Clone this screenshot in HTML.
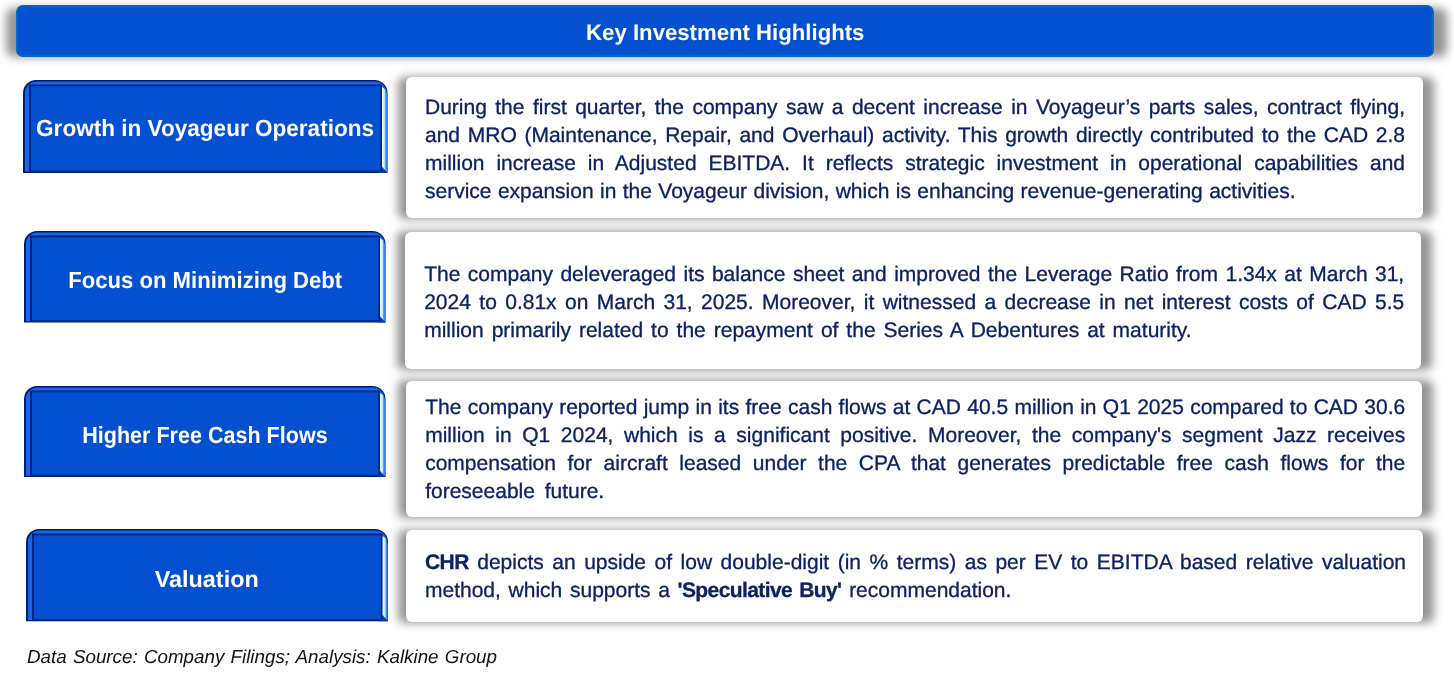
<!DOCTYPE html>
<html><head><meta charset="utf-8"><title>Key Investment Highlights</title>
<style>
html,body{margin:0;padding:0;background:#fff}
body{width:1454px;height:683px;position:relative;overflow:hidden;font-family:"Liberation Sans",sans-serif;text-rendering:geometricPrecision}
.sh{position:absolute;background:rgba(0,0,0,.42);filter:blur(5px);border-radius:6px}
.card{position:absolute;background:#fff;border-radius:6px}
.lab{position:absolute;display:block}
.hdr{position:absolute;left:16px;top:5px;width:1418px;height:52px;box-sizing:border-box;background:#0450D1;border:2.2px solid #0569C4;border-radius:7px}
.hdrt{position:absolute;left:0;width:1454px;text-align:center;color:#fff;font-weight:bold;white-space:nowrap}
.ln{position:absolute;color:#0B2265;-webkit-text-stroke:0.3px #0B2265;white-space:nowrap;text-align:justify;text-align-last:justify}
.ln b{letter-spacing:-0.6px}
.foot{position:absolute;color:#111;font-style:italic;white-space:nowrap;text-align:justify;text-align-last:justify}
</style></head><body>
<svg width="0" height="0" style="position:absolute"><defs>
<linearGradient id="hl" x1="0" y1="0" x2="1" y2="0">
<stop offset="0" stop-color="#9FD4FF"/><stop offset="0.18" stop-color="#F0FCFF"/><stop offset="0.5" stop-color="#C4ECFF"/><stop offset="0.72" stop-color="#4A96F2"/><stop offset="1" stop-color="#2A72E4"/>
</linearGradient></defs></svg>
<div class="sh" style="left:5.5px;top:7.5px;width:1441.5px;height:49.5px;border-radius:8px;filter:blur(5px)"></div><div class="hdr"></div><div class="hdrt" style="left:-1.8px;top:18.05px;font-size:22.5px;line-height:30px"><span style="display:inline-block;transform:scaleX(.985)">Key Investment Highlights</span></div><div class="sh" style="left:397.6px;top:76.6px;width:1036.2px;height:142.4px"></div>
<div class="sh" style="left:396.7px;top:231.4px;width:1035.2px;height:138.5px"></div>
<div class="sh" style="left:397.7px;top:380.3px;width:1035.2px;height:137.5px"></div>
<div class="sh" style="left:397.7px;top:529.6px;width:1036.2px;height:93.0px"></div>
<div class="card" style="left:406px;top:77.3px;width:1017px;height:140.8px"></div>
<div class="card" style="left:405.1px;top:232.1px;width:1016px;height:136.9px"></div>
<div class="card" style="left:406.1px;top:381px;width:1016px;height:135.9px"></div>
<div class="card" style="left:406.1px;top:530.3px;width:1017px;height:91.4px"></div>
<svg class="lab" style="left:23.1px;top:80.3px" width="364.5" height="92.9" viewBox="0 0 364.5 92.9"><path d="M0,92.9 L0,13 A13,13 0 0 1 13,0 L351.5,0 A13,13 0 0 1 364.5,13 L364.5,92.9 Z" fill="#00196B"/><path d="M1.9,91.6 L1.9,13.0 A11.4,11.4 0 0 1 13.3,1.6 L352.2,1.6 A11.4,11.4 0 0 1 363.6,13.0 L363.6,91.6 Z" fill="#1766E8"/><path d="M358.5,6.5 L362.3,9.5 L364.3,15 L364.3,92.6 L358.5,85.9 Z" fill="url(#hl)"/><path d="M357.5,85.9 L364.5,92.9 L355.5,92.9 Z" fill="#0A3AA8"/><path d="M6.0,91.5 L6.0,4.5 L359.0,4.5 L359.0,91.5 Z" fill="#01237F"/><path d="M8.0,90.6 L8.0,6.3 L357.4,6.3 L357.4,90.6 Z" fill="#0450D1"/><text x="182.05" y="56.00" text-anchor="middle" textLength="338.0" lengthAdjust="spacingAndGlyphs" font-family="Liberation Sans, sans-serif" font-weight="bold" font-size="23.4" fill="#fff">Growth in Voyageur Operations</text></svg>
<svg class="lab" style="left:24.2px;top:231.1px" width="361.5" height="91.5" viewBox="0 0 361.5 91.5"><path d="M0,91.5 L0,13 A13,13 0 0 1 13,0 L348.5,0 A13,13 0 0 1 361.5,13 L361.5,91.5 Z" fill="#00196B"/><path d="M1.9,90.2 L1.9,13.0 A11.4,11.4 0 0 1 13.3,1.6 L349.2,1.6 A11.4,11.4 0 0 1 360.6,13.0 L360.6,90.2 Z" fill="#1766E8"/><path d="M355.5,6.5 L359.3,9.5 L361.3,15 L361.3,91.2 L355.5,84.5 Z" fill="url(#hl)"/><path d="M354.5,84.5 L361.5,91.5 L352.5,91.5 Z" fill="#0A3AA8"/><path d="M6.0,90.1 L6.0,4.5 L356.0,4.5 L356.0,90.1 Z" fill="#01237F"/><path d="M8.0,89.2 L8.0,6.3 L354.4,6.3 L354.4,89.2 Z" fill="#0450D1"/><text x="181.20" y="57.20" text-anchor="middle" textLength="274.1" lengthAdjust="spacingAndGlyphs" font-family="Liberation Sans, sans-serif" font-weight="bold" font-size="23.4" fill="#fff">Focus on Minimizing Debt</text></svg>
<svg class="lab" style="left:24.2px;top:385.5px" width="361.5" height="91.1" viewBox="0 0 361.5 91.1"><path d="M0,91.1 L0,13 A13,13 0 0 1 13,0 L348.5,0 A13,13 0 0 1 361.5,13 L361.5,91.1 Z" fill="#00196B"/><path d="M1.9,89.8 L1.9,13.0 A11.4,11.4 0 0 1 13.3,1.6 L349.2,1.6 A11.4,11.4 0 0 1 360.6,13.0 L360.6,89.8 Z" fill="#1766E8"/><path d="M355.5,6.5 L359.3,9.5 L361.3,15 L361.3,90.8 L355.5,84.1 Z" fill="url(#hl)"/><path d="M354.5,84.1 L361.5,91.1 L352.5,91.1 Z" fill="#0A3AA8"/><path d="M6.0,89.7 L6.0,4.5 L356.0,4.5 L356.0,89.7 Z" fill="#01237F"/><path d="M8.0,88.8 L8.0,6.3 L354.4,6.3 L354.4,88.8 Z" fill="#0450D1"/><text x="180.95" y="56.80" text-anchor="middle" textLength="245.4" lengthAdjust="spacingAndGlyphs" font-family="Liberation Sans, sans-serif" font-weight="bold" font-size="23.4" fill="#fff">Higher Free Cash Flows</text></svg>
<svg class="lab" style="left:26.2px;top:529.4px" width="362" height="92.2" viewBox="0 0 362 92.2"><path d="M0,92.2 L0,13 A13,13 0 0 1 13,0 L349,0 A13,13 0 0 1 362,13 L362,92.2 Z" fill="#00196B"/><path d="M1.9,90.9 L1.9,13.0 A11.4,11.4 0 0 1 13.3,1.6 L349.7,1.6 A11.4,11.4 0 0 1 361.1,13.0 L361.1,90.9 Z" fill="#1766E8"/><path d="M356.0,6.5 L359.8,9.5 L361.8,15 L361.8,91.9 L356.0,85.2 Z" fill="url(#hl)"/><path d="M355,85.2 L362,92.2 L353,92.2 Z" fill="#0A3AA8"/><path d="M6.0,90.8 L6.0,4.5 L356.5,4.5 L356.5,90.8 Z" fill="#01237F"/><path d="M8.0,89.9 L8.0,6.3 L354.9,6.3 L354.9,89.9 Z" fill="#0450D1"/><text x="180.75" y="58.10" text-anchor="middle" textLength="104.0" lengthAdjust="spacingAndGlyphs" font-family="Liberation Sans, sans-serif" font-weight="bold" font-size="23.4" fill="#fff">Valuation</text></svg>
<div class="ln" style="left:425px;top:94.00px;width:980px;height:28.07px;line-height:28.07px;font-size:21.0px">During the first quarter, the company saw a decent increase in Voyageur’s parts sales, contract flying,</div>
<div class="ln" style="left:425px;top:122.00px;width:980px;height:28.07px;line-height:28.07px;font-size:21.0px">and MRO (Maintenance, Repair, and Overhaul) activity. This growth directly contributed to the CAD 2.8</div>
<div class="ln" style="left:425px;top:150.00px;width:980px;height:28.07px;line-height:28.07px;font-size:21.0px">million increase in Adjusted EBITDA. It reflects strategic investment in operational capabilities and</div>
<div class="ln" style="left:425px;top:178.00px;width:870.5px;height:28.07px;line-height:28.07px;font-size:21.0px">service expansion in the Voyageur division, which is enhancing revenue-generating activities.</div>
<div class="ln" style="left:424.2px;top:261.00px;width:980px;height:28.07px;line-height:28.07px;font-size:21.0px">The company deleveraged its balance sheet and improved the Leverage Ratio from 1.34x at March 31,</div>
<div class="ln" style="left:424.2px;top:289.00px;width:980px;height:28.07px;line-height:28.07px;font-size:21.0px">2024 to 0.81x on March 31, 2025. Moreover, it witnessed a decrease in net interest costs of CAD 5.5</div>
<div class="ln" style="left:424.2px;top:317.00px;width:767.4px;height:28.07px;line-height:28.07px;font-size:21.0px">million primarily related to the repayment of the Series A Debentures at maturity.</div>
<div class="ln" style="left:425.2px;top:394.00px;width:980px;height:28.07px;line-height:28.07px;font-size:21.0px">The company reported jump in its free cash flows at CAD 40.5 million in Q1 2025 compared to CAD 30.6</div>
<div class="ln" style="left:425.2px;top:422.00px;width:980px;height:28.07px;line-height:28.07px;font-size:21.0px">million in Q1 2024, which is a significant positive. Moreover, the company's segment Jazz receives</div>
<div class="ln" style="left:425.2px;top:450.00px;width:980px;height:28.07px;line-height:28.07px;font-size:21.0px">compensation for aircraft leased under the CPA that generates predictable free cash flows for the</div>
<div class="ln" style="left:425.2px;top:478.00px;width:179px;height:28.07px;line-height:28.07px;font-size:21.0px">foreseeable future.</div>
<div class="ln" style="left:425px;top:549.00px;width:981px;height:28.07px;line-height:28.07px;font-size:21.0px"><b>CHR</b> depicts an upside of low double-digit (in % terms) as per EV to EBITDA based relative valuation</div>
<div class="ln" style="left:425px;top:577.00px;width:586.4px;height:28.07px;line-height:28.07px;font-size:21.0px">method, which supports a <b>'Speculative Buy'</b> recommendation.</div><div class="foot" style="left:27px;top:644px;width:470px;font-size:18.8px;line-height:26px">Data Source: Company Filings; Analysis: Kalkine Group</div></body></html>
